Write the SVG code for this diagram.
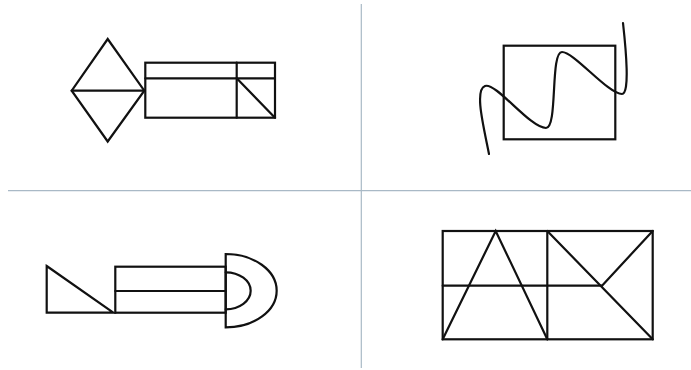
<svg xmlns="http://www.w3.org/2000/svg" width="691" height="370" viewBox="0 0 691 370">
<style>
.s{fill:none;stroke:#111;stroke-width:2.2;stroke-linejoin:miter;stroke-linecap:round}
.div{stroke:#a9b9c6;stroke-width:1.2;fill:none}
</style>
<rect width="691" height="370" fill="#fff"/>
<g id="dividers">
<line class="div" x1="8" y1="190.7" x2="691" y2="190.7"/>
<line class="div" x1="361.3" y1="4" x2="361.3" y2="368"/>
</g>
<g id="fig1">
<polygon class="s" points="107.7,39 144.3,90.7 107.7,141.5 71.7,90.7"/>
<line class="s" x1="71.7" y1="90.7" x2="144.3" y2="90.7"/>
<rect class="s" x="145.3" y="62.7" width="129.7" height="55"/>
<line class="s" x1="145.3" y1="78.3" x2="275" y2="78.3"/>
<line class="s" x1="236.7" y1="62.7" x2="236.7" y2="117.7"/>
<line class="s" x1="236.7" y1="78.3" x2="275" y2="117.7"/>
</g>
<g id="fig2">
<rect class="s" x="503.7" y="45.7" width="111.6" height="93.6"/>
<path class="s" d="M489,154 C484,128 474,90 485,86 C496,82 530,128 546,128 C558,128 550,52 562,52 C574,52 608,94 622,94 C630,94 626,50 623,23"/>
</g>
<g id="fig3">
<polygon class="s" points="46.7,266 113.3,312.7 46.7,312.7"/>
<rect class="s" x="115.3" y="266.7" width="110.4" height="46"/>
<line class="s" x1="115.3" y1="291" x2="225.7" y2="291"/>
<path class="s" d="M225.7,254 A51,36.7 0 0 1 225.7,327.4 Z"/>
<path class="s" d="M225.7,272.3 A25,18.5 0 0 1 225.7,309.3"/>
</g>
<g id="fig4">
<rect class="s" x="442.7" y="231" width="210" height="108.3"/>
<line class="s" x1="547.3" y1="231" x2="547.3" y2="339.3"/>
<line class="s" x1="442.7" y1="285.7" x2="602" y2="285.7"/>
<polyline class="s" points="442.7,339.3 495.7,231 547.3,339.3"/>
<line class="s" x1="547.3" y1="231" x2="652.7" y2="339.3"/>
<line class="s" x1="652.7" y1="231" x2="602" y2="285.7"/>
</g>
</svg>
